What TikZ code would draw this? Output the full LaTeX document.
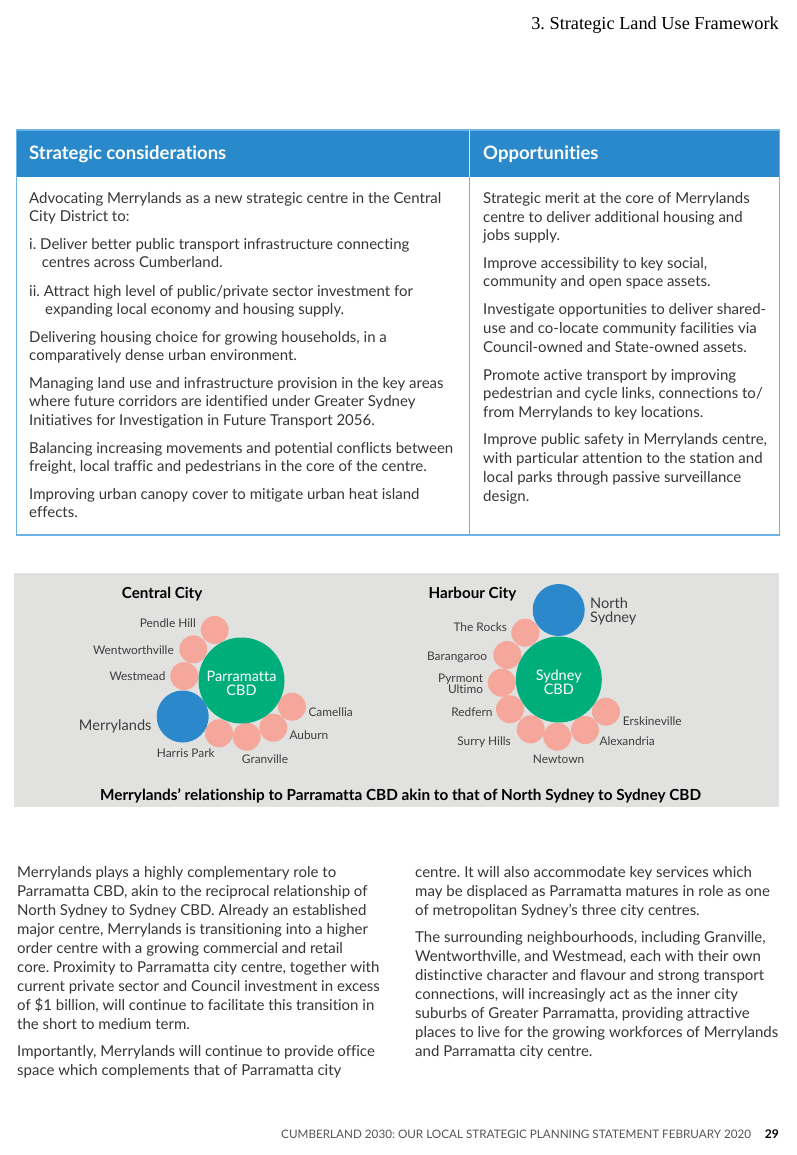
\documentclass[tikz,border=0pt]{standalone}
\usepackage{fontspec}
\setmainfont{Lato}[Ligatures=CommonOff]
\newfontfamily\headserif{Liberation Serif}
\definecolor{hdrblue}{HTML}{2A89CA}
\definecolor{bordblue}{HTML}{6DB3E6}
\definecolor{cbdgreen}{HTML}{00AE7B}
\definecolor{subpink}{HTML}{F5A79B}
\definecolor{majblue}{HTML}{2A88CB}
\definecolor{panelgray}{HTML}{E1E1E0}
\definecolor{txtgray}{HTML}{363636}
\definecolor{lblgray}{HTML}{3E3E3E}
\definecolor{footgray}{HTML}{555555}
\newcounter{lnno}
\tikzset{
  body/.style={font=\fontsize{15}{18}\selectfont, text=txtgray, inner sep=0pt, anchor=base west},
  colhead/.style={font=\fontsize{18.5}{21}\selectfont\bfseries, text=white, inner sep=0pt, anchor=base west},
  sublbl/.style={font=\fontsize{11.9}{14}\selectfont, text=lblgray, inner sep=0pt},
  biglbl/.style={font=\fontsize{14.6}{17}\selectfont, text=lblgray, inner sep=0pt},
  cbdlbl/.style={font=\fontsize{14.5}{17}\selectfont, text=white, inner sep=0pt, anchor=base},
  grouplbl/.style={font=\fontsize{15.2}{17}\selectfont\bfseries, text=black, inner sep=0pt, anchor=base west},
  subc/.style={circle, fill=subpink, minimum size=28pt, inner sep=0pt, draw=none},
  majc/.style={circle, fill=majblue, minimum size=52pt, inner sep=0pt, draw=none},
  cbdc/.style={circle, fill=cbdgreen, minimum size=86pt, inner sep=0pt, draw=none},
}
\newcommand\Ln[3]{\stepcounter{lnno}\node[body] (ln\thelnno) at (#1,#2) {#3};}
\begin{document}
\frenchspacing
\begin{tikzpicture}[x=1pt,y=-1pt]
\useasboundingbox (0,0) rectangle (796,1155);
\fill[white] (0,0) rectangle (796,1155);

% running head
\node[font=\headserif\fontsize{18.3}{20}\selectfont, text=black, inner sep=0pt, anchor=base east] (runhead) at (779,29.3) {3. Strategic Land Use Framework};

% table
\fill[hdrblue] (16.5,130) rectangle (779.3,176.7);
\draw[bordblue, line width=1.5pt] (16.5,130) rectangle (779.3,535);
\draw[bordblue, line width=1.5pt] (469.5,176.7) -- (469.5,535);
\draw[white!80!hdrblue, line width=1.2pt] (469.5,130) -- (469.5,176.7);
\node[colhead] (hleft) at (29,160) {Strategic considerations};
\node[colhead] (hright) at (483,160) {Opportunities};

% left column
\Ln{29}{204}{Advocating Merrylands as a new strategic centre in the Central}
\Ln{29}{222}{City District to:}
\Ln{29}{250}{i. Deliver better public transport infrastructure connecting}
\Ln{41.7}{268}{centres across Cumberland.}
\Ln{29}{296}{ii. Attract high level of public/private sector investment for}
\Ln{45}{314}{expanding local economy and housing supply.}
\Ln{29}{342}{Delivering housing choice for growing households, in a}
\Ln{29}{360}{comparatively dense urban environment.}
\Ln{29}{388}{Managing land use and infrastructure provision in the key areas}
\Ln{29}{406.5}{where future corridors are identified under Greater Sydney}
\Ln{29}{425}{Initiatives for Investigation in Future Transport 2056.}
\Ln{29}{453}{Balancing increasing movements and potential conflicts between}
\Ln{29}{471}{freight, local traffic and pedestrians in the core of the centre.}
\Ln{29}{499}{Improving urban canopy cover to mitigate urban heat island}
\Ln{29}{517}{effects.}

% right column
\Ln{483}{204}{Strategic merit at the core of Merrylands}
\Ln{483}{222.5}{centre to deliver additional housing and}
\Ln{483}{241}{jobs supply.}
\Ln{483}{268.5}{Improve accessibility to key social,}
\Ln{483}{287}{community and open space assets.}
\Ln{483}{314.5}{Investigate opportunities to deliver shared-}
\Ln{483}{333}{use and co-locate community facilities via}
\Ln{483}{352}{Council-owned and State-owned assets.}
\Ln{483}{380}{Promote active transport by improving}
\Ln{483}{398.5}{pedestrian and cycle links, connections to/}
\Ln{483}{417}{from Merrylands to key locations.}
\Ln{483}{444.5}{Improve public safety in Merrylands centre,}
\Ln{483}{463}{with particular attention to the station and}
\Ln{483}{482}{local parks through passive surveillance}
\Ln{483}{501}{design.}

% diagram panel
\fill[panelgray] (14,573) rectangle (779,807);

% Central City
\node[grouplbl] (cc) at (121.7,598.5) {Central City};
\node[subc] (pendle) at (214.7,630) {};
\node[subc] (wentw) at (193.3,649.3) {};
\node[subc] (westm) at (184.3,676) {};
\node[subc] (harris) at (219,733.3) {};
\node[subc] (granv) at (246.7,736.7) {};
\node[subc] (auburn) at (273.3,727.7) {};
\node[subc] (camel) at (292,706.7) {};
\node[cbdc] (parra) at (241.5,680.5) {};
\node[majc] (merry) at (182.7,716.5) {};
\node[cbdlbl] (parraA) at (241.5,681) {Parramatta};
\node[cbdlbl] (parraB) at (241.5,695) {CBD};
\node[sublbl, anchor=base east] (lpendle) at (196,627.5) {Pendle Hill};
\node[sublbl, anchor=base east] (lwentw) at (174,654) {Wentworthville};
\node[sublbl, anchor=base east] (lwestm) at (165.7,680) {Westmead};
\node[biglbl, anchor=base east] (lmerry) at (151.7,730) {Merrylands};
\node[sublbl, anchor=base west] (lharris) at (156.7,757.5) {Harris Park};
\node[sublbl, anchor=base west] (lgranv) at (241.7,763) {Granville};
\node[sublbl, anchor=base west] (lauburn) at (289.3,739) {Auburn};
\node[sublbl, anchor=base west] (lcamel) at (308.3,716) {Camellia};

% Harbour City
\node[grouplbl] (hc) at (428.3,598.5) {Harbour City};
\node[subc] (rocks) at (525.3,632.7) {};
\node[subc] (baran) at (507.3,655) {};
\node[subc] (pyrm) at (501.7,682.7) {};
\node[subc] (redf) at (510,709.3) {};
\node[subc] (surry) at (530.7,729.3) {};
\node[subc] (newt) at (557.3,736.7) {};
\node[subc] (alex) at (585,730) {};
\node[subc] (ersk) at (606,711.7) {};
\node[cbdc] (syd) at (558.8,679.5) {};
\node[majc] (nsyd) at (558.7,610) {};
\node[cbdlbl] (sydA) at (558.8,680) {Sydney};
\node[cbdlbl] (sydB) at (558.8,694) {CBD};
\node[biglbl, anchor=base west] (lnsydA) at (590,608) {North};
\node[biglbl, anchor=base west] (lnsydB) at (590,622.5) {Sydney};
\node[sublbl, anchor=base east] (lrocks) at (507.3,631.5) {The Rocks};
\node[sublbl, anchor=base east] (lbaran) at (487.3,660) {Barangaroo};
\node[sublbl, anchor=base east] (lpyrmA) at (483.3,682.5) {Pyrmont};
\node[sublbl, anchor=base east] (lpyrmB) at (483.3,693.5) {Ultimo};
\node[sublbl, anchor=base east] (lredf) at (492.7,716.5) {Redfern};
\node[sublbl, anchor=base east] (lsurry) at (511,745) {Surry Hills};
\node[sublbl, anchor=base west] (lnewt) at (532.7,763) {Newtown};
\node[sublbl, anchor=base west] (lalex) at (599.3,745) {Alexandria};
\node[sublbl, anchor=base west] (lersk) at (622.7,725) {Erskineville};

\node[font=\fontsize{15.3}{17}\selectfont\bfseries, text=black, inner sep=0pt, anchor=base] (caption) at (400.5,800.5) {Merrylands’ relationship to Parramatta CBD akin to that of North Sydney to Sydney CBD};

% body text left
\Ln{17}{877.5}{Merrylands plays a highly complementary role to}
\Ln{17}{896.5}{Parramatta CBD, akin to the reciprocal relationship of}
\Ln{17}{915.5}{North Sydney to Sydney CBD. Already an established}
\Ln{17}{934.5}{major centre, Merrylands is transitioning into a higher}
\Ln{17}{953.5}{order centre with a growing commercial and retail}
\Ln{17}{972.5}{core. Proximity to Parramatta city centre, together with}
\Ln{17}{991.5}{current private sector and Council investment in excess}
\Ln{17}{1010.5}{of \$1 billion, will continue to facilitate this transition in}
\Ln{17}{1029.5}{the short to medium term.}
\Ln{17}{1056.5}{Importantly, Merrylands will continue to provide office}
\Ln{17}{1075.5}{space which complements that of Parramatta city}

% body text right
\Ln{415}{877.5}{centre. It will also accommodate key services which}
\Ln{415}{896.5}{may be displaced as Parramatta matures in role as one}
\Ln{415}{915.5}{of metropolitan Sydney’s three city centres.}
\Ln{415}{942.5}{The surrounding neighbourhoods, including Granville,}
\Ln{415}{961.5}{Wentworthville, and Westmead, each with their own}
\Ln{415}{980.5}{distinctive character and flavour and strong transport}
\Ln{415}{999.5}{connections, will increasingly act as the inner city}
\Ln{415}{1018.5}{suburbs of Greater Parramatta, providing attractive}
\Ln{415}{1037.5}{places to live for the growing workforces of Merrylands}
\Ln{415}{1056.5}{and Parramatta city centre.}

% footer
\node[font=\fontsize{11.7}{13}\selectfont, text=footgray, inner sep=0pt, anchor=base west] (foot) at (281,1138) {CUMBERLAND 2030: OUR LOCAL STRATEGIC PLANNING STATEMENT FEBRUARY 2020};
\node[font=\fontsize{12}{13}\selectfont\bfseries, text=black, inner sep=0pt, anchor=base east] (pageno) at (779,1138) {29};
\end{tikzpicture}
\end{document}
